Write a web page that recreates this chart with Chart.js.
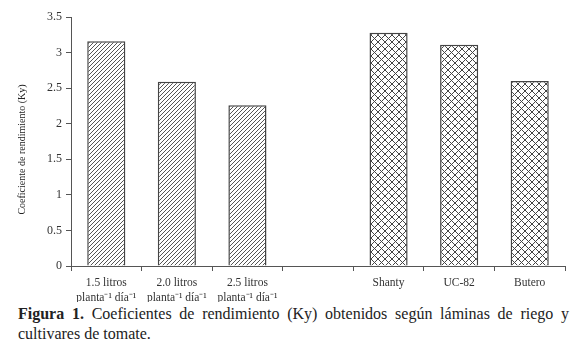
<!DOCTYPE html>
<html><head><meta charset="utf-8">
<script src="https://cdn.jsdelivr.net/npm/chart.js@4"></script>
<style>
html,body{margin:0;padding:0;background:#fff;}
#wrap{position:relative;width:578px;height:356px;}
#cv{position:absolute;left:0;top:0;}
#cap{position:absolute;left:18px;top:304px;width:551px;font-family:"Liberation Serif","Times New Roman",serif;font-size:16px;line-height:20px;color:#222;text-align:justify;text-align-last:left;}
</style></head>
<body><div id="wrap"><canvas id="cv" width="578" height="302"></canvas>
<div id="cap"><b>Figura 1.</b> Coeficientes de rendimiento (Ky) obtenidos según láminas de riego y cultivares de tomate.</div></div>
<script>
const categories = [["1.5 litros","planta⁻¹ día⁻¹"],["2.0 litros","planta⁻¹ día⁻¹"],["2.5 litros","planta⁻¹ día⁻¹"],"","Shanty","UC-82","Butero"];
const laminaValues = [3.16, 2.59, 2.26, null, null, null, null];
const cultivarValues = [null, null, null, null, 3.28, 3.11, 2.60];
const yTickLabels = ["0","0.5","1","1.5","2","2.5","3","3.5"];
const yAxisTitle = "Coeficiente de rendimiento (Ky)";

function hatch(){
  const c=document.createElement('canvas');c.width=4;c.height=4;
  const g=c.getContext('2d');g.fillStyle='#fff';g.fillRect(0,0,4,4);
  g.strokeStyle='#555';g.lineWidth=1;
  g.beginPath();g.moveTo(-1,5);g.lineTo(5,-1);g.moveTo(-1,1);g.lineTo(1,-1);g.moveTo(3,5);g.lineTo(5,3);g.stroke();
  return g.createPattern(c,'repeat');
}
function cross(){
  const s=7;const c=document.createElement('canvas');c.width=s;c.height=s;
  const g=c.getContext('2d');g.fillStyle='#fff';g.fillRect(0,0,s,s);
  g.strokeStyle='#444';g.lineWidth=1;
  g.beginPath();g.moveTo(0,0);g.lineTo(s,s);g.moveTo(0,s);g.lineTo(s,0);g.stroke();
  return g.createPattern(c,'repeat');
}
const serif='"Liberation Serif","Times New Roman",serif';
const yTitlePlugin={id:'yTitle',afterDraw(chart){
  const g=chart.ctx;const a=chart.chartArea;
  g.save();g.translate(22,(a.top+a.bottom)/2+8);g.rotate(-Math.PI/2);
  g.font='10px '+serif;g.fillStyle='#222';g.textAlign='center';g.textBaseline='middle';
  g.fillText(yAxisTitle,0,0);g.restore();
}};
const ctx=document.getElementById('cv').getContext('2d');
new Chart(ctx,{
  type:'bar',
  data:{labels:categories,datasets:[
    {data:laminaValues,backgroundColor:hatch(),borderColor:'#444',borderWidth:1.5,categoryPercentage:1,barPercentage:0.54,grouped:false},
    {data:cultivarValues,backgroundColor:cross(),borderColor:'#444',borderWidth:1.5,categoryPercentage:1,barPercentage:0.54,grouped:false}
  ]},
  options:{
    responsive:false,animation:false,
    layout:{padding:{top:17,right:13,left:0,bottom:0}},
    plugins:{legend:{display:false},tooltip:{enabled:false}},
    scales:{
      x:{
        grid:{drawOnChartArea:false,drawTicks:true,tickLength:5,color:'#555',offset:true},
        border:{display:true,color:'#555',width:1},
        ticks:{color:'#333',font:{family:serif,size:11.5,lineHeight:1.3},padding:5,maxRotation:0,autoSkip:false},
        afterFit:(s)=>{s.height=302-266;}
      },
      y:{
        min:0,max:3.5,
        grid:{drawOnChartArea:false,drawTicks:true,tickLength:5,color:'#555'},
        border:{display:true,color:'#555',width:1},
        ticks:{stepSize:0.5,color:'#333',font:{family:serif,size:12},padding:4,callback:(v,i)=>yTickLabels[i]},
        afterFit:(s)=>{s.width=71;}
      }
    }
  },
  plugins:[yTitlePlugin]
});
</script></body></html>
